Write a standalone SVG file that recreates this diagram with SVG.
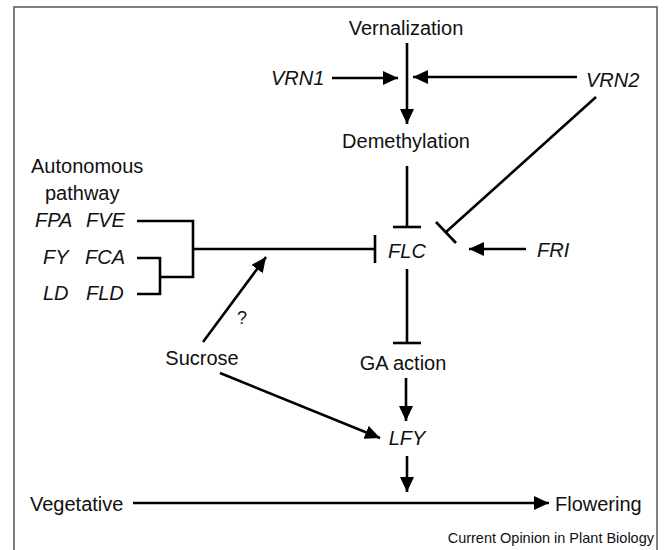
<svg xmlns="http://www.w3.org/2000/svg" width="664" height="550" viewBox="0 0 664 550">
<defs>
<style>
text{font-family:"Liberation Sans",Arial,sans-serif;font-size:20px;fill:#111}
.i{font-style:italic}
.c{text-anchor:middle}
.e{text-anchor:end}
.ln{stroke:#000;stroke-width:2.6;fill:none}
.br{stroke:#000;stroke-width:2.6;fill:none}
.fr{stroke:#555;stroke-width:1.5;fill:none}
</style>
<marker id="ah" markerUnits="userSpaceOnUse" markerWidth="16" markerHeight="14" refX="15" refY="7" orient="auto">
<path d="M0,0 L15,7 L0,14 Z" fill="#000"/>
</marker>
</defs>
<rect width="664" height="550" fill="#fff"/>
<path class="fr" d="M14,550 V7 H657 V550"/>

<g id="vernalization"><text class="c" x="406" y="35">Vernalization</text></g>
<g id="vrn1"><text class="i" x="271" y="85">VRN1</text></g>
<g id="vrn2"><text class="i" x="586" y="87">VRN2</text></g>
<g id="demethylation"><text class="c" x="406" y="148">Demethylation</text></g>
<g id="autonomous"><text x="31" y="173">Autonomous</text><text x="45" y="200">pathway</text></g>
<g id="fpa"><text class="i" x="35" y="227">FPA</text></g>
<g id="fve"><text class="i" x="86" y="227">FVE</text></g>
<g id="fy"><text class="i" x="43" y="264">FY</text></g>
<g id="fca"><text class="i" x="85" y="264">FCA</text></g>
<g id="ld"><text class="i" x="43" y="300">LD</text></g>
<g id="fld"><text class="i" x="86" y="300">FLD</text></g>
<g id="flc"><text class="i c" x="407" y="258">FLC</text></g>
<g id="fri"><text class="i" x="537" y="257">FRI</text></g>
<g id="sucrose"><text class="c" x="202" y="365">Sucrose</text></g>
<g id="ga"><text class="c" x="403" y="370">GA action</text></g>
<g id="lfy"><text class="i c" x="407" y="445">LFY</text></g>
<g id="vegetative"><text x="30" y="511">Vegetative</text></g>
<g id="flowering"><text x="555" y="511">Flowering</text></g>
<g id="question"><text class="c" x="242" y="324" style="font-size:18px">?</text></g>
<g id="credit"><text class="e" x="654" y="543" style="font-size:14.5px">Current Opinion in Plant Biology</text></g>

<g id="connectors">
<line class="ln" x1="407" y1="43" x2="407" y2="124" marker-end="url(#ah)"/>
<line class="ln" x1="332" y1="78" x2="398" y2="78" marker-end="url(#ah)"/>
<line class="ln" x1="577" y1="77" x2="413" y2="77" marker-end="url(#ah)"/>
<line class="ln" x1="407" y1="166" x2="407" y2="227"/>
<line class="br" x1="393" y1="227" x2="421" y2="227"/>
<line class="ln" x1="596" y1="97" x2="446" y2="232"/>
<line class="br" x1="436" y1="222" x2="456" y2="243"/>
<path class="br" d="M137,221 H193 V277 H160 M137,258 H160 V294 H137"/>
<line class="ln" x1="193" y1="249" x2="375" y2="249"/>
<line class="br" x1="375" y1="235" x2="375" y2="263"/>
<line class="ln" x1="526" y1="249" x2="469" y2="249" marker-end="url(#ah)"/>
<line class="ln" x1="407" y1="269" x2="407" y2="343"/>
<line class="br" x1="393" y1="343" x2="421" y2="343"/>
<line class="ln" x1="406" y1="378" x2="406" y2="421" marker-end="url(#ah)"/>
<line class="ln" x1="203" y1="342" x2="266" y2="257" marker-end="url(#ah)"/>
<line class="ln" x1="220" y1="373" x2="380" y2="438" marker-end="url(#ah)"/>
<line class="ln" x1="407" y1="456" x2="407" y2="492" marker-end="url(#ah)"/>
<line class="ln" x1="133" y1="503" x2="549" y2="503" marker-end="url(#ah)"/>
</g>
</svg>
